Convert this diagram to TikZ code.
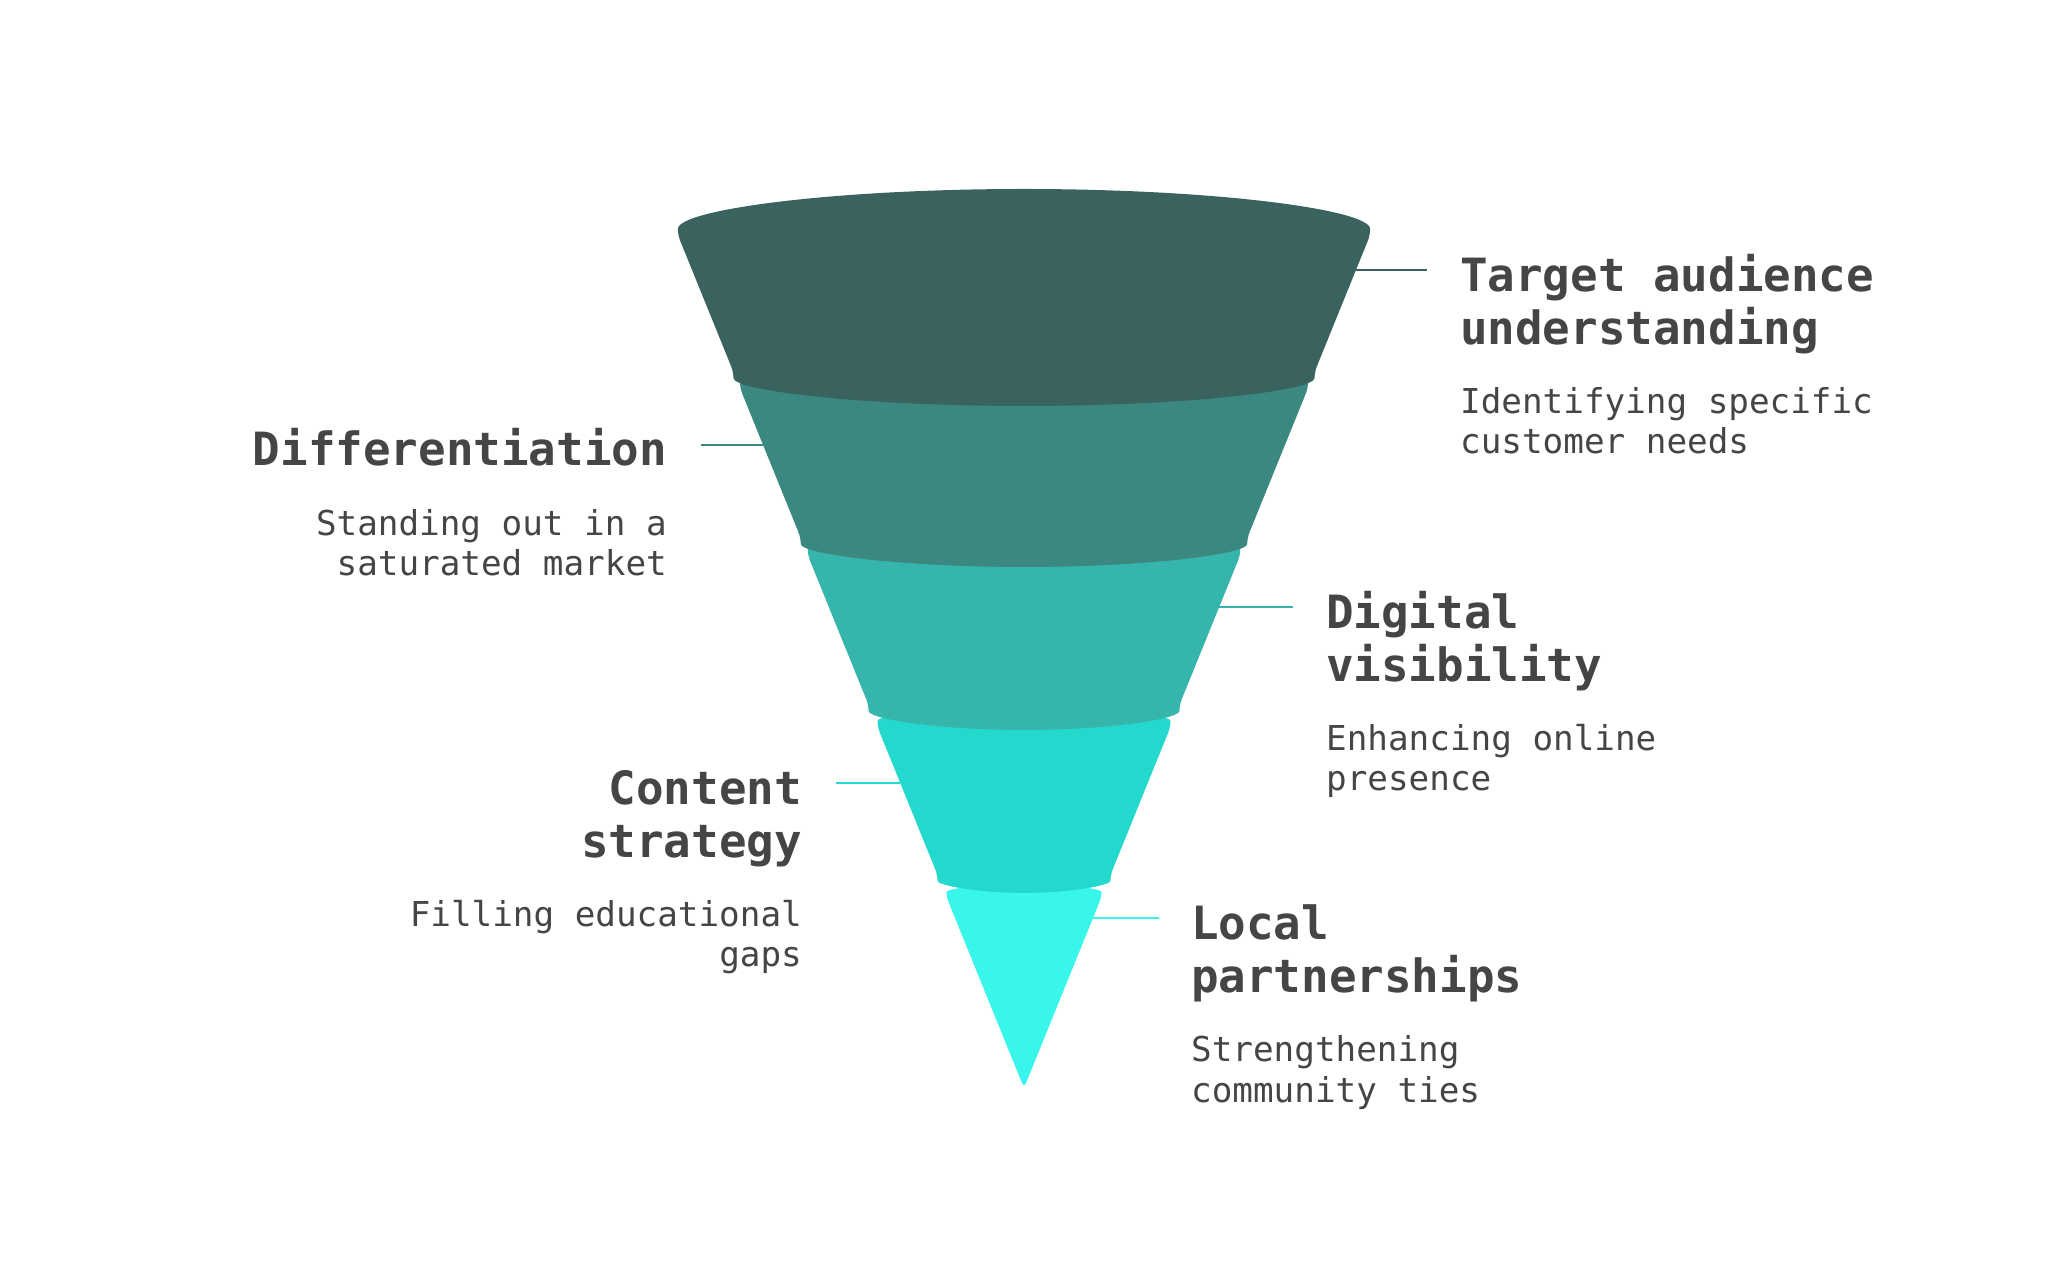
\documentclass[tikz,border=0pt]{standalone}
\usepackage{fontspec}
\newfontfamily\monofont{DejaVu Sans Mono}
\definecolor{cA}{HTML}{3A6360}
\definecolor{cB}{HTML}{3B8881}
\definecolor{cC}{HTML}{36B5AD}
\definecolor{cD}{HTML}{23D8CC}
\definecolor{cE}{HTML}{38F6E9}
\definecolor{txt}{HTML}{454545}
\newcommand\fseg[5]{%
  \pgfmathsetmacro\wt{0.4058*(#2-181)}%
  \pgfmathsetmacro\wb{0.4058*(#4-181)}%
  \fill[#1, rounded corners=6bp] ({1024-\wt},#2)
    arc[start angle=180, end angle=0, x radius=\wt bp, y radius=#3 bp]
    -- ({1024+\wb},#4)
    arc[start angle=0, end angle=-180, x radius=\wb bp, y radius=#5 bp]
    -- cycle;}
\begin{document}
\begin{tikzpicture}[x=1bp,y=1bp,
  ttl/.style={inner sep=0pt, text=txt, font=\monofont\bfseries\fontsize{46}{53.5}\selectfont},
  sub/.style={inner sep=0pt, text=txt, font=\monofont\fontsize{34.4}{40.5}\selectfont},
  conn/.style={line width=2.5bp}]
\fill[white] (0,0) rectangle (2048,1269);
\useasboundingbox (0,0) rectangle (2048,1269);
% funnel segments, back to front
\pgfmathsetmacro\wv{0.4058*(372-181)}
\fill[cE, rounded corners=5bp] ({1024-\wv},372)
  arc[start angle=180, end angle=0, x radius=\wv bp, y radius=14bp]
  -- (1024,181) -- cycle;
\fseg{cD}{542}{22}{394}{18}
\fseg{cC}{714}{28}{564}{25}
\fseg{cB}{881}{37}{731}{29}
\fseg{cA}{1034}{46}{897}{34}
% connector end points
\coordinate (e1) at (1356,999);  \coordinate (f1) at (1427,999);
\coordinate (e2) at (763,824);   \coordinate (f2) at (701,824);
\coordinate (e3) at (1219,662);  \coordinate (f3) at (1293,662);
\coordinate (e4) at (900,486);   \coordinate (f4) at (836,486);
\coordinate (e5) at (1093,351);  \coordinate (f5) at (1159,351);
\draw[conn, cA] (e1) -- (f1);
\draw[conn, cB] (f2) -- (e2);
\draw[conn, cC] (e3) -- (f3);
\draw[conn, cD] (f4) -- (e4);
\draw[conn, cE] (e5) -- (f5);
% texts (base anchor = baseline of the last line)
\node[ttl, anchor=base west, align=left] (t1) at (1460,924.5) {Target audience\\understanding};
\node[sub, anchor=base west, align=left] (s1) at (1460,815) {Identifying specific\\customer needs};
\node[ttl, anchor=base east, align=right] (t2) at (667,803) {Differentiation};
\node[sub, anchor=base east, align=right] (s2) at (667,693.5) {Standing out in a\\saturated market};
\node[ttl, anchor=base west, align=left] (t3) at (1326,587.5) {Digital\\visibility};
\node[sub, anchor=base west, align=left] (s3) at (1326,478) {Enhancing online\\presence};
\node[ttl, anchor=base east, align=right] (t4) at (802,411.5) {Content\\strategy};
\node[sub, anchor=base east, align=right] (s4) at (802,302) {Filling educational\\gaps};
\node[ttl, anchor=base west, align=left] (t5) at (1191,276.5) {Local\\partnerships};
\node[sub, anchor=base west, align=left] (s5) at (1191,167) {Strengthening\\community ties};
\end{tikzpicture}
\end{document}
